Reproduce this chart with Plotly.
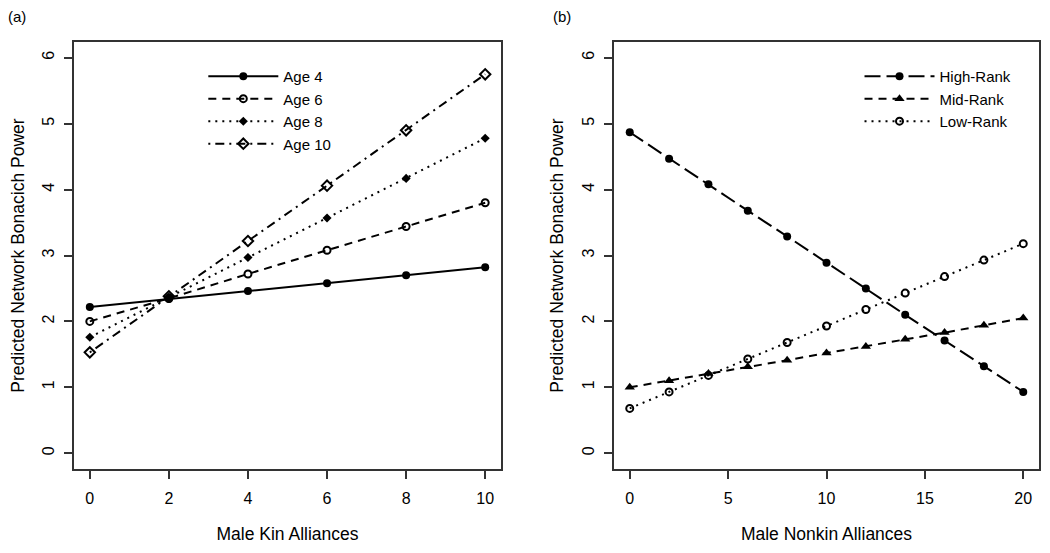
import plotly.graph_objects as go

# ---- data ----
kin_x = [0, 2, 4, 6, 8, 10]
age4 = [2.22, 2.34, 2.46, 2.58, 2.70, 2.82]
age6 = [2.00, 2.35, 2.72, 3.08, 3.44, 3.80]
age8 = [1.76, 2.37, 2.97, 3.57, 4.17, 4.78]
age10 = [1.53, 2.38, 3.22, 4.06, 4.90, 5.75]

nonkin_x = [0, 2, 4, 6, 8, 10, 12, 14, 16, 18, 20]
high_rank = [4.87, 4.47, 4.08, 3.68, 3.29, 2.89, 2.50, 2.10, 1.71, 1.32, 0.93]
mid_rank = [1.00, 1.10, 1.21, 1.31, 1.41, 1.52, 1.62, 1.73, 1.83, 1.94, 2.05]
low_rank = [0.68, 0.93, 1.18, 1.43, 1.68, 1.93, 2.18, 2.43, 2.68, 2.93, 3.18]

left_ticks = [0, 2, 4, 6, 8, 10]
right_ticks = [0, 5, 10, 15, 20]
y_ticks = [0, 1, 2, 3, 4, 5, 6]

FONT = "Liberation Sans, Arial, sans-serif"
BLACK = "#000000"

# page has an 8px body margin; figure sized to fit the 1050x553 window
W, H = 1034, 537
ML, MR, MT, MB = 66, 3, 34, 76
PW, PH = W - ML - MR, H - MT - MB

fig = go.Figure()

def add(x, y, name, dash, symbol, msize, xa, ya, legend, lw=2):
    fig.add_trace(go.Scatter(
        x=x, y=y, name=name, mode="lines+markers",
        line=dict(color=BLACK, width=lw, dash=dash),
        marker=dict(symbol=symbol, size=msize, color=BLACK,
                    line=dict(color=BLACK, width=2 if "open" in symbol else 0)),
        xaxis=xa, yaxis=ya, legend=legend))

add(kin_x, age4, "Age 4", "solid", "circle", 8, "x", "y", "legend")
add(kin_x, age6, "Age 6", "8px,6px", "circle-open", 7, "x", "y", "legend")
add(kin_x, age8, "Age 8", "2px,5px", "diamond", 7, "x", "y", "legend")
add(kin_x, age10, "Age 10", "2px,5px,9px,5px", "diamond-open", 8, "x", "y", "legend")

add(nonkin_x, high_rank, "High-Rank", "16px,6px", "circle", 8, "x2", "y2", "legend2")
add(nonkin_x, mid_rank, "Mid-Rank", "8px,6px", "triangle-up", 9, "x2", "y2", "legend2")
add(nonkin_x, low_rank, "Low-Rank", "2px,5px", "circle-open", 7, "x2", "y2", "legend2")

axis_common = dict(showline=True, linecolor="#333333", linewidth=1.5, mirror=True,
                   ticks="outside", ticklen=8, tickwidth=1.5, tickcolor="#333333",
                   showgrid=False, zeroline=False, automargin=False,
                   tickfont=dict(family=FONT, size=16, color=BLACK))

TITLE_FONT = dict(family=FONT, size=17.5, color=BLACK)

# panel boxes: page x 74..501 and 614..1039 (minus 8px body margin)
dom_a = [(74 - 8 - ML) / PW, (501 - 8 - ML) / PW]
dom_b = [(614 - 8 - ML) / PW, 1.0]

fig.update_layout(
    width=W, height=H,
    margin=dict(l=ML, r=MR, t=MT, b=MB, autoexpand=False),
    paper_bgcolor="white", plot_bgcolor="white",
    font=dict(family=FONT, size=16, color=BLACK),
    xaxis=dict(domain=dom_a, range=[-0.4, 10.4], tickvals=left_ticks,
               title=dict(text="Male Kin Alliances", font=TITLE_FONT, standoff=22),
               ticklabelstandoff=6, **axis_common),
    xaxis2=dict(domain=dom_b, range=[-0.8, 20.8], tickvals=right_ticks,
                title=dict(text="Male Nonkin Alliances", font=TITLE_FONT, standoff=22),
                ticklabelstandoff=6, **axis_common),
    yaxis=dict(anchor="x", range=[-0.24, 6.24], tickvals=y_ticks, tickangle=-90,
               title=dict(text="Predicted Network Bonacich Power", font=TITLE_FONT, standoff=12),
               ticklabelstandoff=4, **axis_common),
    yaxis2=dict(anchor="x2", range=[-0.24, 6.24], tickvals=y_ticks, tickangle=-90,
                title=dict(text="Predicted Network Bonacich Power", font=TITLE_FONT, standoff=12),
                ticklabelstandoff=4, **axis_common),
    legend=dict(x=0.134, y=0.958, xanchor="left", yanchor="top",
                bgcolor="rgba(0,0,0,0)", borderwidth=0,
                font=dict(family=FONT, size=15), itemwidth=70, tracegroupgap=0),
    legend2=dict(x=0.814, y=0.958, xanchor="left", yanchor="top",
                 bgcolor="rgba(0,0,0,0)", borderwidth=0,
                 font=dict(family=FONT, size=15), itemwidth=70, tracegroupgap=0),
)

for label, px in (("(a)", 17), ("(b)", 562)):
    fig.add_annotation(text=label, x=(px - 8 - ML) / PW, y=1 + (MT - (17 - 8)) / PH,
                       xref="paper", yref="paper", showarrow=False,
                       xanchor="center", yanchor="middle",
                       font=dict(family=FONT, size=15, color=BLACK))

fig.write_html("out.html")
